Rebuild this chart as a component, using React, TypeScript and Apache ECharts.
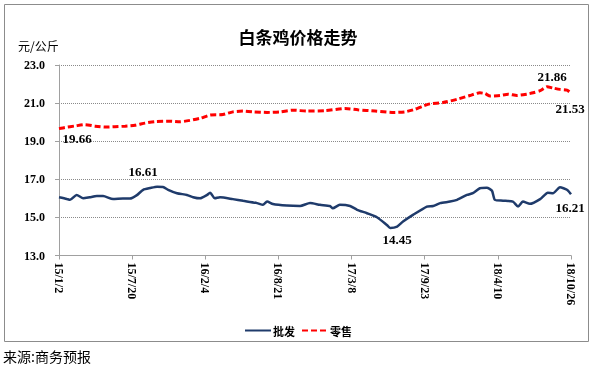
import React, { useEffect, useRef } from "react";
import * as echarts from "echarts";

// Days since 2015-01-02 and prices (元/公斤)
const WHOLESALE_DAYS = [0, 21, 30, 48, 66, 84, 103, 120, 147, 174, 193, 212, 229, 248, 267, 283, 297, 321, 348, 365, 384, 403, 411, 424, 438, 473, 501, 539, 555, 566, 582, 620, 656, 683, 710, 737, 745, 764, 792, 811, 838, 865, 892, 901, 920, 936, 963, 1001, 1018, 1037, 1064, 1083, 1110, 1126, 1145, 1164, 1178, 1186, 1208, 1235, 1249, 1262, 1281, 1309, 1330, 1344, 1363, 1382, 1393];
const WHOLESALE = [16.06, 15.97, 15.92, 16.18, 16.0, 16.06, 16.12, 16.12, 15.96, 15.99, 15.99, 16.17, 16.45, 16.54, 16.61, 16.6, 16.45, 16.27, 16.18, 16.06, 16.0, 16.18, 16.3, 16.0, 16.06, 15.96, 15.87, 15.75, 15.66, 15.83, 15.7, 15.62, 15.6, 15.75, 15.66, 15.6, 15.48, 15.66, 15.6, 15.4, 15.22, 15.01, 14.6, 14.45, 14.52, 14.78, 15.13, 15.57, 15.6, 15.75, 15.83, 15.92, 16.18, 16.27, 16.53, 16.56, 16.4, 15.92, 15.88, 15.83, 15.57, 15.83, 15.71, 15.96, 16.3, 16.27, 16.58, 16.45, 16.21];

const RETAIL_DAYS = [0, 16, 44, 71, 98, 125, 152, 180, 207, 234, 261, 302, 329, 384, 411, 446, 473, 501, 528, 566, 601, 637, 675, 724, 778, 813, 860, 906, 941, 969, 988, 1009, 1045, 1083, 1118, 1145, 1159, 1173, 1200, 1222, 1246, 1273, 1290, 1309, 1328, 1344, 1363, 1382, 1393];
const RETAIL = [19.66, 19.72, 19.8, 19.87, 19.79, 19.74, 19.76, 19.79, 19.84, 19.95, 20.03, 20.05, 20.02, 20.2, 20.37, 20.4, 20.54, 20.58, 20.54, 20.51, 20.54, 20.63, 20.58, 20.6, 20.72, 20.65, 20.58, 20.51, 20.54, 20.68, 20.83, 20.96, 21.03, 21.2, 21.4, 21.54, 21.5, 21.37, 21.4, 21.47, 21.4, 21.47, 21.54, 21.65, 21.86, 21.79, 21.72, 21.68, 21.53];

const SERIES_NAMES = ["批发", "零售"];
const TITLE = "白条鸡价格走势";
const UNIT = "元/公斤";
const SOURCE = "来源:商务预报";
const START_DATE = Date.UTC(2015, 0, 2);
const X_STEP = 199;
const X_MAX = 1393;

const fmtDate = (d: number) => {
  const dt = new Date(START_DATE + Math.round(d) * 86400000);
  return `${dt.getUTCFullYear() % 100}/${dt.getUTCMonth() + 1}/${dt.getUTCDate()}`;
};

const labelStyle = {
  show: true,
  position: "inside",
  fontFamily: "Liberation Serif",
  fontWeight: "bold",
  fontSize: 13,
  color: "#000",
};

function mp(days: number[], vals: number[], idx: number, offset: number[]) {
  return {
    coord: [days[idx], vals[idx]],
    value: vals[idx],
    label: { ...labelStyle, offset, formatter: vals[idx].toFixed(2) },
  };
}

export default function App() {
  const ref = useRef<HTMLDivElement>(null);
  useEffect(() => {
    if (!ref.current) return;
    const chart = echarts.init(ref.current, null, { renderer: "svg" });
    const wMax = WHOLESALE.indexOf(Math.max(...WHOLESALE.slice(0, 30)));
    const wMin = WHOLESALE.indexOf(Math.min(...WHOLESALE));
    const rMax = RETAIL.indexOf(Math.max(...RETAIL));
    chart.setOption({
      animation: false,
      title: {
        text: TITLE,
        left: "center",
        top: 23,
        textStyle: { fontFamily: "Noto Sans CJK SC", fontWeight: "bold", fontSize: 17, color: "#000" },
      },
      graphic: [
        { type: "rect", shape: { x: 4.5, y: 4.5, width: 584, height: 337 }, style: { fill: "none", stroke: "#8c8c8c", lineWidth: 1 } },
        { type: "text", x: 18, y: 39, style: { text: UNIT, fontFamily: "Noto Sans CJK SC", fontSize: 12, fill: "#000" } },
        { type: "text", x: 3, y: 349, style: { text: SOURCE, fontFamily: "Noto Sans CJK SC", fontSize: 14, fill: "#000" } },
      ],
      legend: {
        data: SERIES_NAMES,
        top: 320,
        left: "center",
        itemWidth: 26,
        itemHeight: 10,
        itemGap: 6,
        itemStyle: { opacity: 0 },
        textStyle: { fontFamily: "Noto Sans CJK SC", fontWeight: "bold", fontSize: 11, color: "#000", padding: [0, 0, 0, -3] },
      },
      grid: { left: 59, right: 25, top: 65, bottom: 114.5 },
      xAxis: {
        type: "value",
        min: 0,
        max: X_MAX,
        interval: X_STEP,
        axisLine: { show: true, lineStyle: { color: "#a0a0a0" } },
        axisTick: { show: true, length: 4, lineStyle: { color: "#a0a0a0" } },
        splitLine: { show: false },
        axisLabel: {
          rotate: -90,
          margin: 7,
          formatter: (v: number) => fmtDate(v),
          fontFamily: "Liberation Serif",
          fontWeight: "bold",
          fontSize: 12,
          color: "#000",
        },
      },
      yAxis: {
        type: "value",
        min: 13,
        max: 23,
        interval: 2,
        axisLine: { show: true, lineStyle: { color: "#a0a0a0" } },
        axisTick: { show: true, length: 4, lineStyle: { color: "#a0a0a0" } },
        splitLine: { show: true, lineStyle: { type: "dotted", color: "#8a8a8a", width: 1 } },
        axisLabel: {
          margin: 14,
          formatter: (v: number) => v.toFixed(1),
          fontFamily: "Liberation Serif",
          fontWeight: "bold",
          fontSize: 12,
          color: "#000",
        },
      },
      series: [
        {
          name: SERIES_NAMES[0],
          type: "line",
          symbol: "none",
          smooth: 0.2,
          data: WHOLESALE_DAYS.map((d, i) => [d, WHOLESALE[i]]),
          lineStyle: { color: "#1f3b6b", width: 2.5 },
          itemStyle: { color: "#1f3b6b" },
          markPoint: {
            symbol: "circle",
            symbolSize: 1,
            itemStyle: { color: "rgba(0,0,0,0)" },
            data: [
              mp(WHOLESALE_DAYS, WHOLESALE, wMax, [-14, -15]),
              mp(WHOLESALE_DAYS, WHOLESALE, wMin, [7, 12]),
              mp(WHOLESALE_DAYS, WHOLESALE, WHOLESALE.length - 1, [-1, 13]),
            ],
          },
        },
        {
          name: SERIES_NAMES[1],
          type: "line",
          symbol: "none",
          smooth: 0.2,
          data: RETAIL_DAYS.map((d, i) => [d, RETAIL[i]]),
          lineStyle: { color: "#ff0000", width: 3, type: [6, 3] },
          itemStyle: { color: "#ff0000" },
          markPoint: {
            symbol: "circle",
            symbolSize: 1,
            itemStyle: { color: "rgba(0,0,0,0)" },
            data: [
              mp(RETAIL_DAYS, RETAIL, 0, [18, 10]),
              mp(RETAIL_DAYS, RETAIL, rMax, [5, -10]),
              mp(RETAIL_DAYS, RETAIL, RETAIL.length - 1, [-1, 15]),
            ],
          },
        },
      ],
    });
    return () => chart.dispose();
  }, []);
  return <div ref={ref} style={{ position: "fixed", left: 0, top: 0, width: 596, height: 370 }} />;
}
